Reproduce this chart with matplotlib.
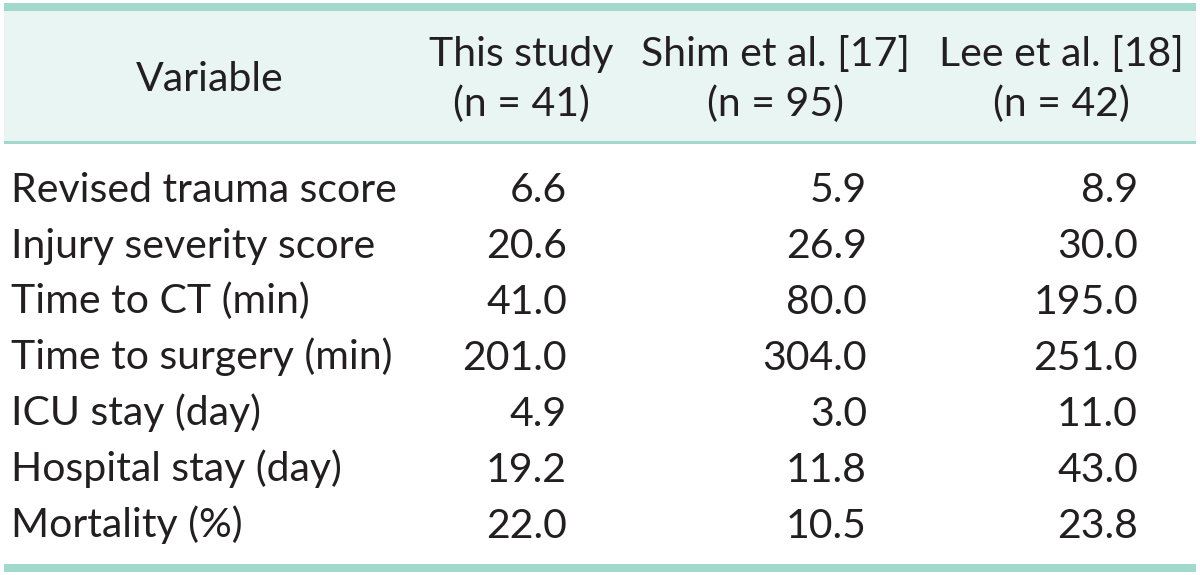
import matplotlib
matplotlib.use("Agg")
import matplotlib.pyplot as plt
from matplotlib.patches import Rectangle

variables = ["Revised trauma score", "Injury severity score", "Time to CT (min)",
             "Time to surgery (min)", "ICU stay (day)", "Hospital stay (day)", "Mortality (%)"]
header_1 = ["This study", "Shim et al. [17]", "Lee et al. [18]"]
header_2 = ["(n = 41)", "(n = 95)", "(n = 42)"]
this_study = ["6.6", "20.6", "41.0", "201.0", "4.9", "19.2", "22.0"]
shim = ["5.9", "26.9", "80.0", "304.0", "3.0", "11.8", "10.5"]
lee = ["8.9", "30.0", "195.0", "251.0", "11.0", "43.0", "23.8"]

W, H = 1200, 575
fig = plt.figure(figsize=(W / 100, H / 100), dpi=100)
fig.patch.set_facecolor("white")

def px(x, y):
    return x / W, 1 - y / H

def rect(x0, y0, x1, y1, color):
    fig.patches.append(Rectangle((x0 / W, 1 - y1 / H), (x1 - x0) / W, (y1 - y0) / H,
                                 transform=fig.transFigure, facecolor=color, edgecolor="none"))

# header background and rules
rect(4, 10, 1196, 142, "#e8f5f2")
rect(4, 3, 1196, 11, "#a3d9cc")
rect(4, 141, 1196, 143.5, "#a3d9cc")
rect(4, 564, 1196, 572, "#a3d9cc")

font = dict(family=["Lato", "DejaVu Sans"], fontsize=29.5, color="#231f20")

x, y = px(210, 91)
fig.text(x, y, "Variable", ha="center", va="baseline", **font)
col_centers = [521, 776, 1061]
for c, h1, h2 in zip(col_centers, header_1, header_2):
    x, y = px(c, 66)
    fig.text(x, y, h1, ha="center", va="baseline", **font)
    x, y = px(c, 116)
    fig.text(x, y, h2, ha="center", va="baseline", **font)

row_y0, row_dy = 201.5, 56.0
col_right = [567, 867, 1138]
for i, v in enumerate(variables):
    yy = row_y0 + i * row_dy
    x, y = px(11, yy)
    fig.text(x, y, v, ha="left", va="baseline", **font)
    for xr, col in zip(col_right, [this_study, shim, lee]):
        x, y = px(xr, yy)
        fig.text(x, y, col[i], ha="right", va="baseline", **font)

fig.savefig("out.png", dpi=100, facecolor="white")
